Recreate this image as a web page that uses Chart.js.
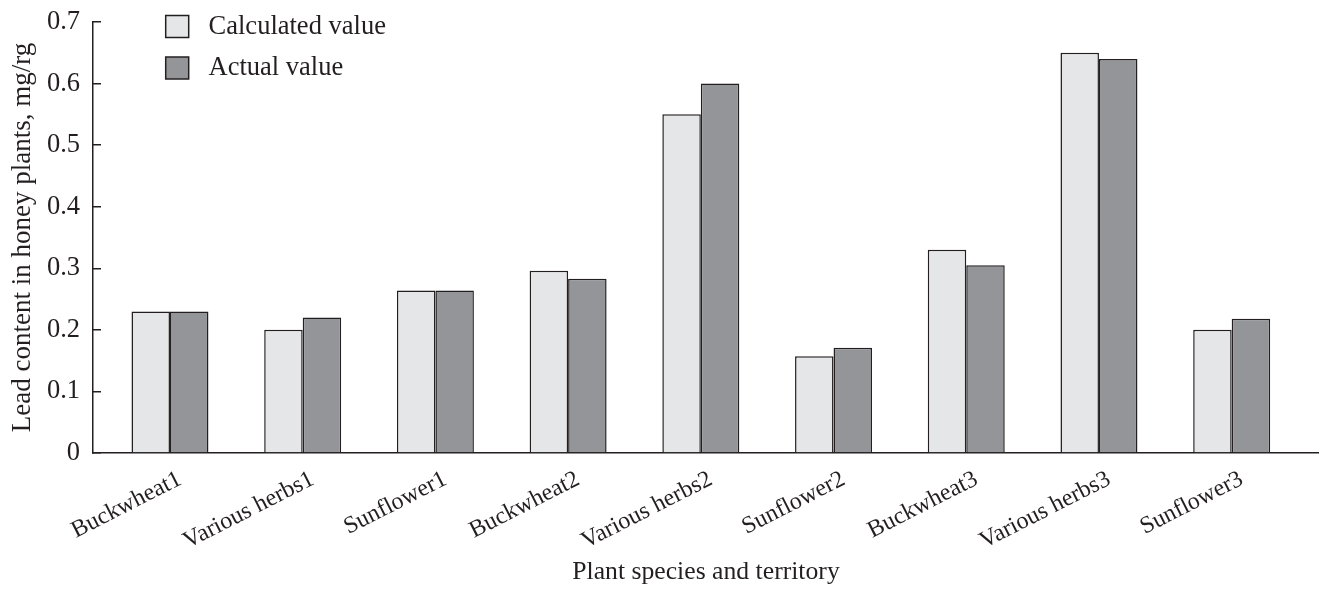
<!DOCTYPE html>
<html>
<head>
<meta charset="utf-8">
<script src="https://cdn.jsdelivr.net/npm/chart.js@4.4.1/dist/chart.umd.min.js"></script>
<style>
  html, body { margin: 0; padding: 0; background: #ffffff; }
  #wrap { width: 1319px; height: 591px; position: relative; }
</style>
</head>
<body>
<div id="wrap"><canvas id="chart"></canvas></div>
<script>
// Plant species / territory groups
const categories = ['Buckwheat1', 'Various herbs1', 'Sunflower1', 'Buckwheat2', 'Various herbs2',
                    'Sunflower2', 'Buckwheat3', 'Various herbs3', 'Sunflower3'];
// Lead content, mg/rg
const calculatedValues = [0.23, 0.20, 0.264, 0.296, 0.55, 0.157, 0.33, 0.65, 0.20];
const actualValues     = [0.23, 0.22, 0.264, 0.283, 0.60, 0.171, 0.305, 0.64, 0.218];
const yTicks = [0, 0.1, 0.2, 0.3, 0.4, 0.5, 0.6, 0.7];

const INK = '#231f20';
const FONT = 'Liberation Serif, "Times New Roman", serif';

Chart.defaults.font.family = FONT;
Chart.defaults.font.size = 25;
Chart.defaults.color = INK;

const toPoints = vals => vals.map((v, i) => ({ x: i, y: v }));

// Places the legend as a two-row key in the upper left of the plot
const legendSpot = {
  id: 'legendSpot',
  afterLayout(chart) {
    const lg = chart.legend;
    if (!lg) return;
    const w = lg.width;
    lg.left = 150.7;
    lg.right = lg.left + w;
    lg.top = -1.7;
    lg.bottom = lg.top + 300;
  }
};

new Chart(document.getElementById('chart'), {
  type: 'bar',
  data: {
    datasets: [
      {
        label: 'Calculated value',
        data: toPoints(calculatedValues),
        backgroundColor: '#e5e6e8',
        borderColor: INK,
        borderWidth: 1.5
      },
      {
        label: 'Actual value',
        data: toPoints(actualValues),
        backgroundColor: '#939598',
        borderColor: INK,
        borderWidth: 1.5
      }
    ]
  },
  options: {
    responsive: true,
    maintainAspectRatio: false,
    animation: false,
    devicePixelRatio: 1,
    categoryPercentage: 0.58,
    barPercentage: 1.0,
    layout: { padding: { top: 22, right: 0, bottom: 0, left: 0 } },
    plugins: {
      tooltip: { enabled: false },
      legend: {
        position: 'chartArea',
        align: 'start',
        labels: {
          boxWidth: 23,
          boxHeight: 22,
          padding: 15,
          color: INK,
          font: { size: 26.5, family: FONT },
          generateLabels(chart) {
            return Chart.defaults.plugins.legend.labels.generateLabels(chart)
              .map(item => Object.assign(item, { text: ' ' + item.text }));
          }
        }
      }
    },
    scales: {
      x: {
        type: 'linear',
        min: -0.580,
        max: 8.658,
        offset: false,
        grid: { display: true, drawOnChartArea: false, drawTicks: false },
        border: { display: true, color: INK, width: 1.5 },
        ticks: {
          stepSize: 1,
          includeBounds: false,
          autoSkip: false,
          minRotation: 27,
          maxRotation: 27,
          padding: 12,
          labelOffset: 10,
          color: INK,
          font: { size: 24, family: FONT },
          callback: v => (Number.isInteger(v) && categories[v] !== undefined) ? categories[v] : ''
        },
        title: {
          display: true,
          text: 'Plant species and territory',
          color: INK,
          font: { size: 25.7, family: FONT },
          padding: { top: 0, bottom: 3 }
        },
        afterFit(scale) { scale.height = 138; }
      },
      y: {
        type: 'linear',
        min: 0,
        max: 0.7,
        afterBuildTicks(scale) { scale.ticks = yTicks.map(v => ({ value: v })); },
        grid: { display: true, drawOnChartArea: false, drawTicks: true, tickLength: -8, color: INK, lineWidth: 1.5 },
        border: { display: true, color: INK, width: 1.5 },
        ticks: {
          padding: 21,
          color: INK,
          font: { size: 26.5, family: FONT },
          callback: v => (v === 0 ? '0' : v.toFixed(1))
        },
        title: {
          display: true,
          text: 'Lead content in honey plants, mg/rg',
          color: INK,
          font: { size: 27, family: FONT },
          padding: { top: 7, bottom: 0 }
        },
        afterFit(scale) {
          scale.width = 93;
          scale.paddingTop = 0;
          scale.paddingBottom = 0;
        }
      }
    }
  },
  plugins: [legendSpot]
});
</script>
</body>
</html>
